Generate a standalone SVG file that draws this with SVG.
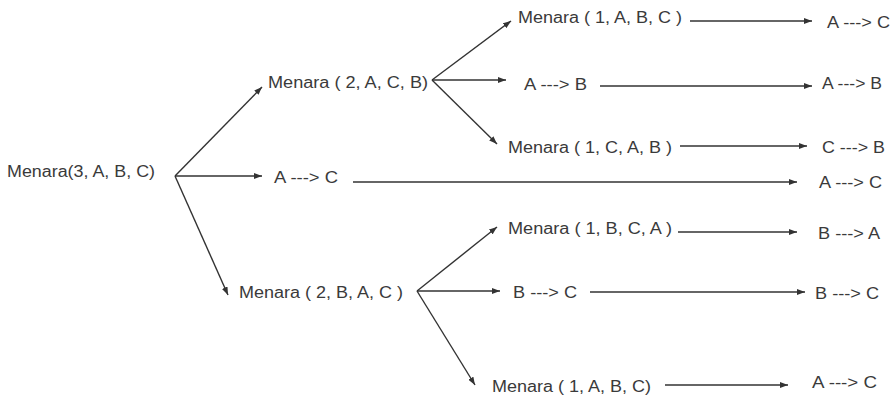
<svg xmlns="http://www.w3.org/2000/svg" width="895" height="397" viewBox="0 0 895 397">
<style>
  text { font-family: "Liberation Sans", Arial, sans-serif; font-size: 16px; fill: #3a3a3a; }
  .c line { stroke: #333; stroke-width: 1.4; fill: none; marker-end: url(#ah); }
</style>
<defs>
  <marker id="ah" markerUnits="userSpaceOnUse" viewBox="0 0 8 6" refX="8" refY="3" markerWidth="8" markerHeight="6" orient="auto">
    <path d="M0,0 L8,3 L0,6 z" fill="#333"/>
  </marker>
</defs>
<rect width="895" height="397" fill="#fff"/>
<g id="n_root"><text x="7" y="177" textLength="148" lengthAdjust="spacingAndGlyphs">Menara(3, A, B, C)</text></g>
<g id="n_2acb"><text x="268" y="88" textLength="160" lengthAdjust="spacingAndGlyphs">Menara ( 2, A, C, B)</text></g>
<g id="n_ac_mid"><text x="274" y="183" textLength="64" lengthAdjust="spacingAndGlyphs">A ---&gt; C</text></g>
<g id="n_2bac"><text x="239" y="298" textLength="164" lengthAdjust="spacingAndGlyphs">Menara ( 2, B, A, C )</text></g>
<g id="n_1abc_top"><text x="518" y="23" textLength="164" lengthAdjust="spacingAndGlyphs">Menara ( 1, A, B, C )</text></g>
<g id="n_ab_mid"><text x="524" y="90" textLength="63" lengthAdjust="spacingAndGlyphs">A ---&gt; B</text></g>
<g id="n_1cab"><text x="508" y="153" textLength="164" lengthAdjust="spacingAndGlyphs">Menara ( 1, C, A, B )</text></g>
<g id="n_1bca"><text x="508" y="234" textLength="164" lengthAdjust="spacingAndGlyphs">Menara ( 1, B, C, A )</text></g>
<g id="n_bc_mid"><text x="513" y="298" textLength="64" lengthAdjust="spacingAndGlyphs">B ---&gt; C</text></g>
<g id="n_1abc_bot"><text x="492" y="392" textLength="159" lengthAdjust="spacingAndGlyphs">Menara ( 1, A, B, C)</text></g>
<g id="r1"><text x="827" y="28" textLength="63" lengthAdjust="spacingAndGlyphs">A ---&gt; C</text></g>
<g id="r2"><text x="822" y="89" textLength="60" lengthAdjust="spacingAndGlyphs">A ---&gt; B</text></g>
<g id="r3"><text x="822" y="153" textLength="63" lengthAdjust="spacingAndGlyphs">C ---&gt; B</text></g>
<g id="r4"><text x="819" y="188" textLength="63" lengthAdjust="spacingAndGlyphs">A ---&gt; C</text></g>
<g id="r5"><text x="818" y="239" textLength="62" lengthAdjust="spacingAndGlyphs">B ---&gt; A</text></g>
<g id="r6"><text x="815" y="299" textLength="64" lengthAdjust="spacingAndGlyphs">B ---&gt; C</text></g>
<g id="r7"><text x="812" y="388" textLength="65" lengthAdjust="spacingAndGlyphs">A ---&gt; C</text></g>
<g id="connectors" class="c">
  <line x1="175" y1="176" x2="262" y2="87"/>
  <line x1="175" y1="176" x2="262" y2="176"/>
  <line x1="175" y1="176" x2="228" y2="295"/>
  <line x1="432" y1="80" x2="511" y2="21"/>
  <line x1="432" y1="80" x2="506" y2="80"/>
  <line x1="432" y1="80" x2="497" y2="144"/>
  <line x1="417" y1="291" x2="497" y2="227"/>
  <line x1="417" y1="291" x2="500" y2="291"/>
  <line x1="417" y1="291" x2="475" y2="385"/>
  <line x1="690" y1="21" x2="812" y2="21"/>
  <line x1="600" y1="86" x2="812" y2="86"/>
  <line x1="680" y1="146" x2="807" y2="146"/>
  <line x1="353" y1="182" x2="797" y2="182"/>
  <line x1="678" y1="232" x2="797" y2="232"/>
  <line x1="590" y1="292" x2="805" y2="292"/>
  <line x1="665" y1="385" x2="788" y2="385"/>
</g>
</svg>
